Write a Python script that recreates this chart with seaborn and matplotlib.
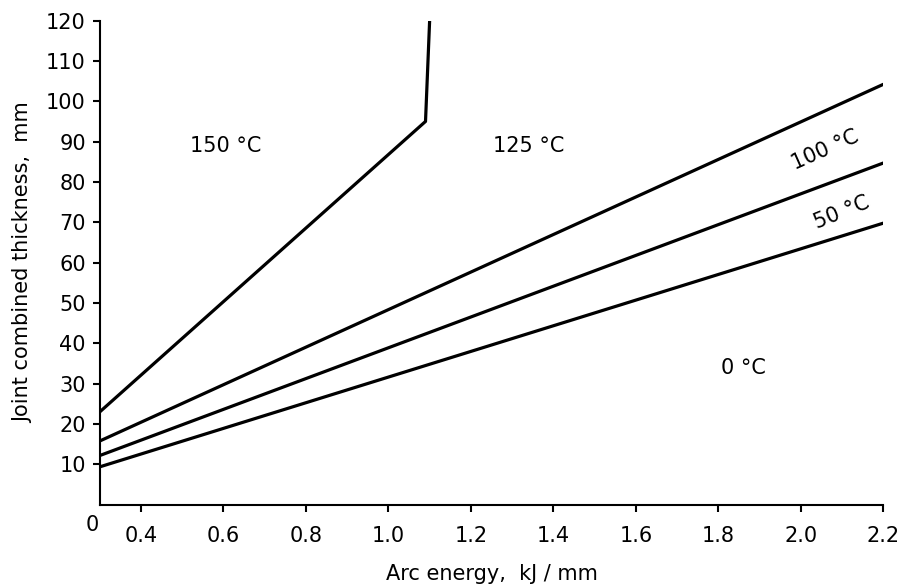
import pandas as pd
import seaborn as sns
import matplotlib.pyplot as plt

# boundary lines (arc energy kJ/mm -> thickness mm)
energy_150 = [0.3, 1.09, 1.10]
thick_150 = [23, 95, 120]

energy_lines = [0.3, 2.2]
thick_100 = [15.8, 104.2]
thick_50 = [12.2, 84.7]
thick_0 = [9.4, 69.8]

x_ticks = [0.4, 0.6, 0.8, 1.0, 1.2, 1.4, 1.6, 1.8, 2.0, 2.2]
x_labels = ['0.4', '0.6', '0.8', '1.0', '1.2', '1.4', '1.6', '1.8', '2.0', '2.2']
y_ticks = [10, 20, 30, 40, 50, 60, 70, 80, 90, 100, 110, 120]

sns.set_style('ticks')
plt.rcParams['font.family'] = ['DejaVu Sans']
plt.rcParams.update({'text.color': 'black', 'axes.labelcolor': 'black',
                     'xtick.color': 'black', 'ytick.color': 'black',
                     'axes.edgecolor': 'black'})

fig = plt.figure(figsize=(9.06, 5.87), dpi=100)
ax = fig.add_axes([0.110, 0.140, 0.865, 0.825])

for xs, ys in [(energy_150, thick_150), (energy_lines, thick_100),
               (energy_lines, thick_50), (energy_lines, thick_0)]:
    df = pd.DataFrame({'x': xs, 'y': ys})
    sns.lineplot(data=df, x='x', y='y', ax=ax, color='black', linewidth=2.3,
                 sort=False, estimator=None)

ax.set_xlim(0.3, 2.2)
ax.set_ylim(0, 120)
ax.set_xticks(x_ticks)
ax.set_xticklabels(x_labels)
ax.set_yticks(y_ticks)
ax.tick_params(direction='out', length=5, width=1.5, labelsize=15, pad=5)
ax.tick_params(axis='x', pad=10)
for s in ['top', 'right']:
    ax.spines[s].set_visible(False)
for s in ['left', 'bottom']:
    ax.spines[s].set_linewidth(1.5)

ax.annotate('0', xy=(0.3, 0), xytext=(-5, -7), textcoords='offset points',
            ha='center', va='top', fontsize=15)

ax.set_xlabel('Arc energy,  kJ / mm', fontsize=15, labelpad=13)
ax.set_ylabel('Joint combined thickness,  mm', fontsize=15, labelpad=9)

ax.text(0.605, 89, '150 °C', fontsize=15, ha='center', va='center')
ax.text(1.34, 89, '125 °C', fontsize=15, ha='center', va='center')
ax.text(2.06, 88, '100 °C', fontsize=15, ha='center', va='center', rotation=24)
ax.text(2.10, 72.5, '50 °C', fontsize=15, ha='center', va='center', rotation=22)
ax.text(1.86, 34, '0 °C', fontsize=15, ha='center', va='center')

fig.savefig('out.png', dpi=100)
